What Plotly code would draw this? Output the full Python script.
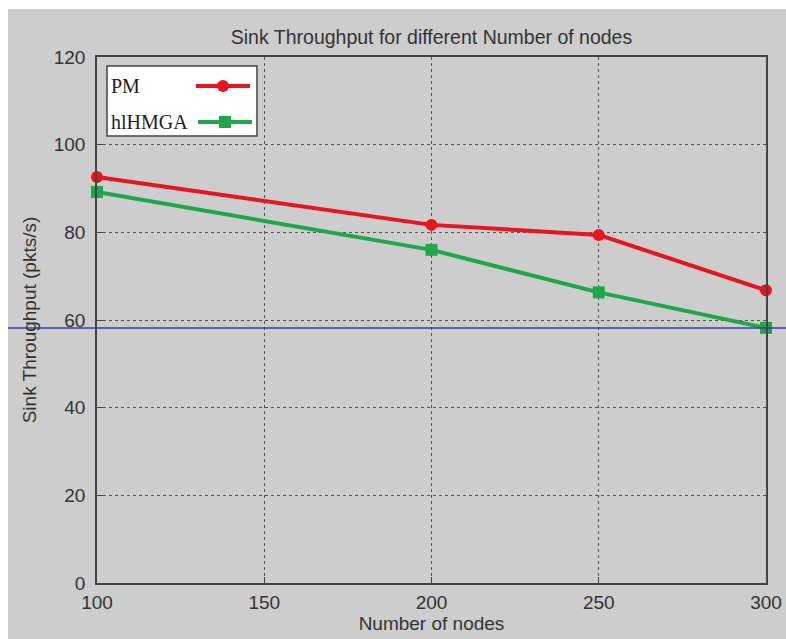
import plotly.graph_objects as go

# ---- data ----
nodes = [100, 200, 250, 300]
pm_throughput = [92.6, 81.7, 79.4, 66.8]
hlhmga_throughput = [89.2, 76.0, 66.3, 58.2]
series_names = ["PM", "hlHMGA"]
x_ticks = [100, 150, 200, 250, 300]
y_ticks = [0, 20, 40, 60, 80, 100, 120]
hline_value = 58.2

title_text = "Sink Throughput for different Number of nodes"
x_title = "Number of nodes"
y_title = "Sink Throughput (pkts/s)"

# ---- layout geometry (pixels) ----
W, H = 786, 639
L, R, T, B = 97, 766, 57, 583
pw, ph = R - L, B - T


def px(x):
    return (x - L) / pw


def py(y):
    return (B - y) / ph


RED = "#e8141e"
GREEN = "#1fa84a"
GRAY_BG = "#cdcdcd"
AXC = "#444444"
TXT = "#333333"

fig = go.Figure()
fig.add_trace(go.Scatter(x=nodes, y=pm_throughput, mode="lines+markers",
                         name=series_names[0], cliponaxis=False,
                         line=dict(color=RED, width=4),
                         marker=dict(symbol="circle", size=12, color=RED)))
fig.add_trace(go.Scatter(x=nodes, y=hlhmga_throughput, mode="lines+markers",
                         name=series_names[1], cliponaxis=False,
                         line=dict(color=GREEN, width=4),
                         marker=dict(symbol="square", size=12, color=GREEN)))

shapes = []
# gray figure background
shapes.append(dict(type="rect", xref="paper", yref="paper", layer="below",
                   x0=px(8), x1=px(W + 5), y0=py(H + 5), y1=py(9),
                   fillcolor=GRAY_BG, line=dict(width=0)))
# legend box
shapes.append(dict(type="rect", xref="paper", yref="paper", layer="above",
                   x0=px(107), x1=px(257), y0=py(136), y1=py(66),
                   fillcolor="white", line=dict(color=AXC, width=1.5)))
# legend samples
for (yc, col, sym, xa, xb) in [(86, RED, "circle", 196, 250), (122, GREEN, "square", 198, 252)]:
    shapes.append(dict(type="line", xref="paper", yref="paper", layer="above",
                       x0=px(xa), x1=px(xb), y0=py(yc), y1=py(yc),
                       line=dict(color=col, width=4)))
    xm = (xa + xb) / 2
    shapes.append(dict(type="circle" if sym == "circle" else "rect",
                       xref="paper", yref="paper", layer="above",
                       xsizemode="pixel", ysizemode="pixel",
                       xanchor=px(xm), yanchor=py(yc),
                       x0=-6, x1=6, y0=-6, y1=6,
                       fillcolor=col, line=dict(color=col, width=0)))
# blue horizontal line across the whole picture
shapes.append(dict(type="line", xref="paper", yref="y", layer="above",
                   x0=px(8), x1=px(W + 5), y0=hline_value, y1=hline_value,
                   line=dict(color="#3a3ab8", width=1.5)))

legend_font = dict(family="Liberation Serif", size=20, color="#222222")
annotations = [
    dict(text=series_names[0], xref="paper", yref="paper", x=px(109), y=py(86),
         xanchor="left", yanchor="middle", showarrow=False, font=legend_font),
    dict(text=series_names[1], xref="paper", yref="paper", x=px(109), y=py(122),
         xanchor="left", yanchor="middle", showarrow=False, font=legend_font),
]

axis_common = dict(showline=True, linecolor=AXC, linewidth=1.5, mirror=True,
                   ticks="inside", ticklen=6, tickcolor=AXC, tickwidth=1.2,
                   showgrid=True, gridcolor="#555555", gridwidth=1.3, griddash="dot",
                   zeroline=False, automargin=False,
                   tickfont=dict(family="Liberation Sans", size=19, color=TXT))

fig.update_layout(
    width=W, height=H,
    margin=dict(l=L, r=W - R, t=T, b=H - B),
    paper_bgcolor="white", plot_bgcolor="white",
    showlegend=False,
    title=dict(text=title_text, xref="paper", x=0.5, xanchor="center",
               yref="container", y=1 - 37 / H, yanchor="middle", automargin=False,
               font=dict(family="Liberation Sans", size=19.5, color=TXT)),
    xaxis=dict(range=[100, 300], tickvals=x_ticks, ticklabelstandoff=1,
               title=dict(text=x_title, standoff=4,
                          font=dict(family="Liberation Sans", size=19, color=TXT)),
               **axis_common),
    yaxis=dict(range=[0, 120], tickvals=y_ticks, ticklabelstandoff=6,
               title=dict(text=y_title, standoff=12,
                          font=dict(family="Liberation Sans", size=19, color=TXT)),
               **axis_common),
    shapes=shapes,
    annotations=annotations,
)

fig.write_html("out.html")
